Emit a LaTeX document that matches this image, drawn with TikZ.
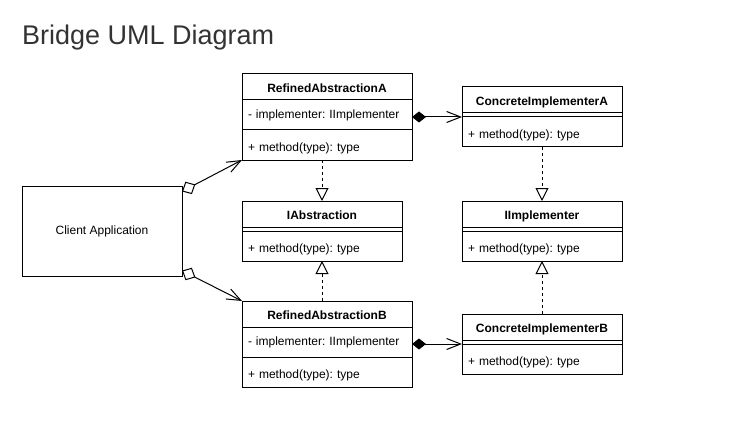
\documentclass[tikz,border=0pt]{standalone}
\usepackage{fontspec}
\setmainfont{Liberation Sans}
\frenchspacing
\usetikzlibrary{arrows.meta, positioning, calc}
\definecolor{titlegray}{HTML}{333333}

\begin{document}
\begin{tikzpicture}[x=1pt, y=-1pt, >=Stealth,
    box/.style={draw, line width=1pt, outer sep=0pt, inner xsep=6pt, inner ysep=0pt,
        font=\fontsize{12}{14}\selectfont, text height=9pt, text depth=3pt},
    classname/.style={box, anchor=north west, minimum height=26pt,
        text height=11.5pt, text depth=0.5pt, font=\fontsize{12}{14}\selectfont\bfseries},
    member/.style={box, minimum height=30pt, text width=#1, align=left,
        text height=13.5pt, text depth=0pt},
    attrib/.style={member=#1, text height=9.5pt, text depth=2.5pt},
    classgap/.style={draw, line width=1pt, outer sep=0pt, inner sep=0pt,
        minimum height=4pt, minimum width=#1},
    assoc/.style={line width=1pt,
        {Diamond[open, length=15pt, width=14pt]}-{Straight Barb[length=14pt, width=11pt]}},
    comp/.style={line width=1pt,
        {Diamond[length=14pt, width=11pt]}-{Straight Barb[length=14pt, width=11pt]}},
    realize/.style={line width=1pt, dash pattern=on 3pt off 3pt,
        -{Triangle[open, length=13pt, width=13pt]}}]

    \useasboundingbox (0,0) rectangle (732,444);

    % title in the top left corner:
    \node[anchor=base west, inner sep=0pt, text=titlegray,
        font=\fontsize{27}{30}\selectfont] (title) at (22,45) {Bridge UML Diagram};

    % the client box on the left:
    \node[box, anchor=north west, minimum width=160pt, minimum height=90pt] (client) at (22,186) {Client Application};

    % refined abstraction A (top middle):
    \node[classname, minimum width=170pt] (raA) at (242,74) {RefinedAbstractionA};
    \node[attrib=158pt, below=0pt of raA] (raAattr) {- implementer: IImplementer};
    \node[member=158pt, below=0pt of raAattr] (raAmeth) {+ method(type): type};

    % the abstraction interface:
    \node[classname, minimum width=160pt] (ia) at (242,201) {IAbstraction};
    \node[classgap=160pt, below=0pt of ia] (iagap) {};
    \node[member=148pt, below=0pt of iagap] (iameth) {+ method(type): type};

    % refined abstraction B (bottom middle):
    \node[classname, minimum width=170pt] (raB) at (242,301) {RefinedAbstractionB};
    \node[attrib=158pt, below=0pt of raB] (raBattr) {- implementer: IImplementer};
    \node[member=158pt, below=0pt of raBattr] (raBmeth) {+ method(type): type};

    % concrete implementer A (top right):
    \node[classname, minimum width=160pt] (ciA) at (462,87) {ConcreteImplementerA};
    \node[classgap=160pt, below=0pt of ciA] (ciAgap) {};
    \node[member=148pt, below=0pt of ciAgap] (ciAmeth) {+ method(type): type};

    % the implementer interface:
    \node[classname, minimum width=160pt] (ii) at (462,201) {IImplementer};
    \node[classgap=160pt, below=0pt of ii] (iigap) {};
    \node[member=148pt, below=0pt of iigap] (iimeth) {+ method(type): type};

    % concrete implementer B (bottom right):
    \node[classname, minimum width=160pt] (ciB) at (462,314) {ConcreteImplementerB};
    \node[classgap=160pt, below=0pt of ciB] (ciBgap) {};
    \node[member=148pt, below=0pt of ciBgap] (ciBmeth) {+ method(type): type};

    % client aggregates both refined abstractions:
    \draw[assoc] ($(client.north east)!0.06!(client.south east)$) -- (raAmeth.south west);
    \draw[assoc] ($(client.south east)!0.06!(client.north east)$) -- (raB.north west);

    % composition to the concrete implementers:
    \draw[comp] (raAattr.east |- ciAgap.south) -- (ciAgap.south west);
    \draw[comp] (raBattr.east |- ciBgap.south) -- (ciBgap.south west);

    % dashed realization arrows to the interfaces:
    \draw[realize] (ia.north |- raAmeth.south) -- (ia.north);
    \draw[realize] (ia.south |- raB.north) -- (iameth.south);
    \draw[realize] (ciAmeth.south) -- (ii.north);
    \draw[realize] (ciB.north) -- (iimeth.south);

\end{tikzpicture}
\end{document}
